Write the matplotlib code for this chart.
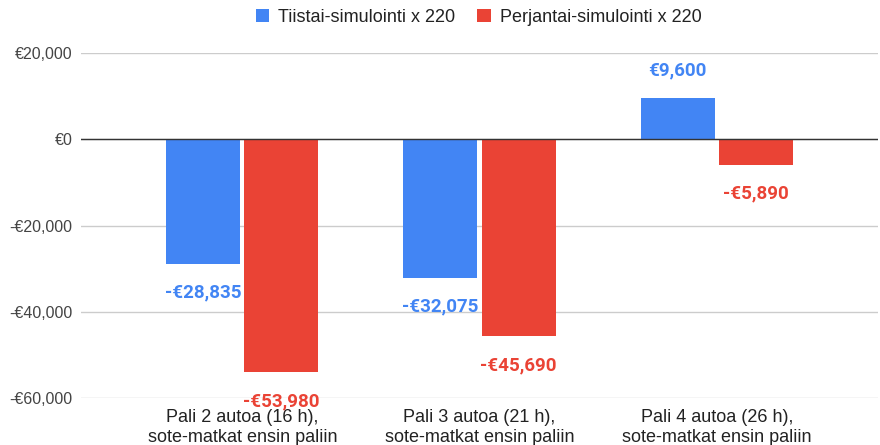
import matplotlib.pyplot as plt
import numpy
from matplotlib.patches import Patch

categories = ["Pali 2 autoa (16 h),\nsote-matkat ensin paliin",
              "Pali 3 autoa (21 h),\nsote-matkat ensin paliin",
              "Pali 4 autoa (26 h),\nsote-matkat ensin paliin"]
tuesday = [-28835, -32075, 9600]
friday = [-53980, -45690, -5890]
series_names = ["Tiistai-simulointi x 220", "Perjantai-simulointi x 220"]
yticks = [-60000, -40000, -20000, 0, 20000]

BLUE = '#4285F4'
RED = '#EA4335'


def euro(v):
    s = "€{:,}".format(abs(int(v)))
    return "-" + s if v < 0 else s


fig = plt.figure(figsize=(8.8, 4.45), dpi=100)
ax = fig.add_axes([81/880, 47/445, (878-81)/880, (398-53)/445])

x = numpy.arange(len(categories))
w = 0.312
off = 0.1645
b1 = ax.bar(x - off, tuesday, w, color=BLUE, zorder=3)
b2 = ax.bar(x + off, friday, w, color=RED, zorder=3)

for bars, vals, col in [(b1, tuesday, BLUE), (b2, friday, RED)]:
    for r, v in zip(bars, vals):
        dy = 20 if v >= 0 else -21
        ax.annotate(euro(v), (r.get_x() + r.get_width()/2, v),
                    xytext=(0, dy), textcoords='offset points',
                    ha='center', va='center', color=col,
                    fontsize=13.5, fontweight='bold', family='Roboto', zorder=4)

ax.set_xlim(-0.68, 2.68)
ax.set_ylim(-60000, 20000)
ax.set_yticks(yticks)
ax.set_yticklabels([euro(v) for v in yticks], fontsize=11.5,
                   family='Liberation Sans', color='#444444')
ax.set_xticks(x)
ax.set_xticklabels(categories, fontsize=13, family='Liberation Sans',
                   color='#222222', linespacing=1.2)
ax.tick_params(axis='both', length=0)
ax.tick_params(axis='x', pad=8)
ax.tick_params(axis='y', pad=6)
ax.grid(axis='y', color='#cccccc', linewidth=1, zorder=0)
ax.axhline(0, color='#333333', linewidth=1, zorder=3)
for s in ax.spines.values():
    s.set_visible(False)

handles = [Patch(facecolor=BLUE), Patch(facecolor=RED)]
fig.legend(handles, series_names, loc='center', bbox_to_anchor=(0.544, 0.961),
           ncol=2, frameon=False, prop={'family': 'Liberation Sans', 'size': 13},
           handlelength=0.75, handleheight=0.75, handletextpad=0.5,
           columnspacing=1.2, labelcolor='#222222')

plt.savefig('out.png', dpi=100)
plt.close('all')
